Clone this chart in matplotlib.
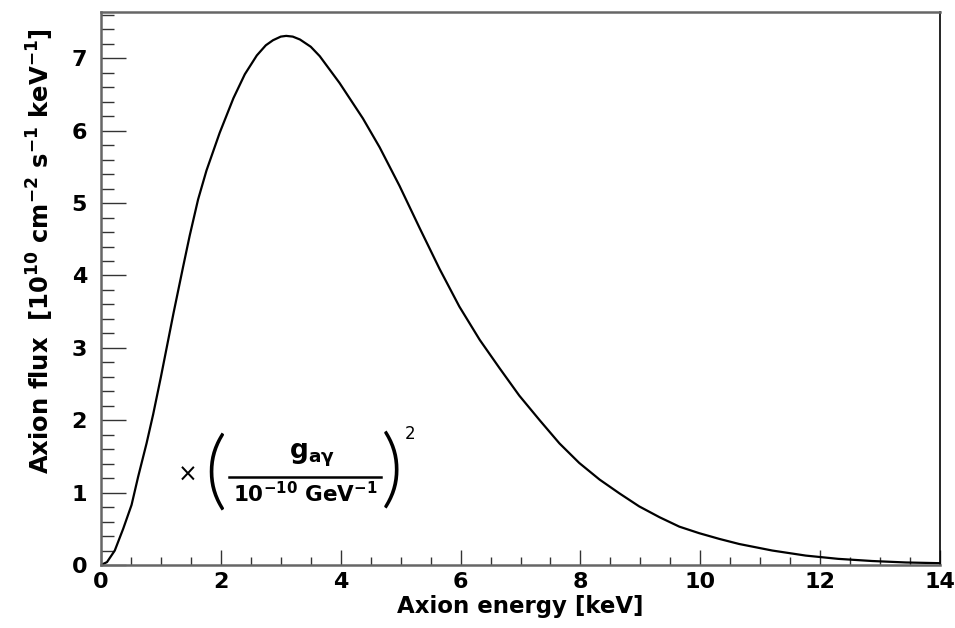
import matplotlib
matplotlib.use("Agg")
import matplotlib.pyplot as plt
from matplotlib.ticker import MultipleLocator

# values
energy = [0.0, 0.1, 0.23, 0.37, 0.51, 0.62, 0.76, 0.87, 1.0, 1.21, 1.37, 1.48, 1.62,
          1.76, 1.98, 2.21, 2.4, 2.6, 2.75, 2.87, 3.0, 3.09, 3.2, 3.32, 3.5, 3.65,
          3.98, 4.37, 4.65, 4.98, 5.32, 5.65, 5.98, 6.32, 6.65, 6.98, 7.32, 7.65,
          7.98, 8.32, 8.65, 8.98, 9.32, 9.65, 9.98, 10.32, 10.65, 11.2, 11.76,
          12.3, 12.87, 13.43, 14.0]
flux = [0.0, 0.04, 0.2, 0.5, 0.83, 1.22, 1.68, 2.08, 2.6, 3.48, 4.12, 4.55, 5.05,
        5.45, 5.97, 6.45, 6.78, 7.04, 7.18, 7.25, 7.30, 7.31, 7.30, 7.26, 7.16, 7.03,
        6.66, 6.17, 5.77, 5.24, 4.65, 4.09, 3.57, 3.11, 2.72, 2.34, 2.0, 1.68,
        1.41, 1.18, 0.99, 0.81, 0.66, 0.53, 0.44, 0.36, 0.29, 0.20, 0.13,
        0.085, 0.055, 0.035, 0.025]

XLABEL = "Axion energy [keV]"
YLABEL = r"Axion flux  [10$^{10}$ cm$^{-2}$ s$^{-1}$ keV$^{-1}$]"
NUMERATOR = r"$\mathbf{g}_{\mathbf{a\gamma}}$"
DENOMINATOR = r"$\mathbf{10^{-10}\ GeV^{-1}}$"

plt.rcParams.update({
    "font.family": "DejaVu Sans",
    "font.weight": "bold",
    "mathtext.fontset": "dejavusans",
    "mathtext.default": "bf",
})

fig = plt.figure(figsize=(9.55, 6.28), dpi=100)
ax = fig.add_axes([101 / 955, 63 / 628, 839 / 955, 553 / 628])

ax.plot(energy, flux, color="black", linewidth=1.6)

ax.set_xlim(0, 14)
ax.set_ylim(0, 7.64)
ax.xaxis.set_major_locator(MultipleLocator(2))
ax.xaxis.set_minor_locator(MultipleLocator(0.5))
ax.yaxis.set_major_locator(MultipleLocator(1))
ax.yaxis.set_minor_locator(MultipleLocator(0.2))

ax.tick_params(axis="both", which="both", direction="in", top=False, right=False,
               colors="#333333", labelcolor="black", labelsize=16)
ax.tick_params(axis="y", which="major", length=18, width=1.0, pad=10)
ax.tick_params(axis="y", which="minor", length=9, width=1.0)
ax.tick_params(axis="x", which="major", length=11, width=1.0, pad=5)
ax.tick_params(axis="x", which="minor", length=5.5, width=1.0)

for side in ("left", "bottom", "top"):
    ax.spines[side].set_color("#666666")
    ax.spines[side].set_linewidth(1.8)
ax.spines["right"].set_color("black")
ax.spines["right"].set_linewidth(1.2)

ax.set_xlabel(XLABEL, fontsize=16.5, fontweight="bold", labelpad=2)
fig.text(40 / 955, 1 - 28 / 628, YLABEL, rotation=90, ha="center", va="top",
         fontsize=17.5, fontweight="bold")

# coupling factor, built from pieces (figure pixel coordinates)
def fx(px):
    return px / 955

def fy(py):
    return 1 - py / 628

fig.text(fx(188), fy(475), "\u00d7", fontsize=17, fontweight="normal",
         ha="center", va="center")
fig.text(fx(215), fy(474), "(", fontsize=62, family="Lato", fontweight=300,
         ha="center", va="center")
fig.text(fx(312), fy(455), NUMERATOR, fontsize=19, ha="center", va="center")
fig.add_artist(plt.Line2D([fx(229), fx(381)], [fy(477), fy(477)],
                          color="black", linewidth=1.8))
fig.text(fx(305), fy(494), DENOMINATOR, fontsize=15.5, ha="center", va="center")
fig.text(fx(392), fy(472), ")", fontsize=62, family="Lato", fontweight=300,
         ha="center", va="center")
fig.text(fx(410), fy(434), "2", fontsize=12, fontweight="normal",
         ha="center", va="center")

fig.savefig("out.png", dpi=100)
